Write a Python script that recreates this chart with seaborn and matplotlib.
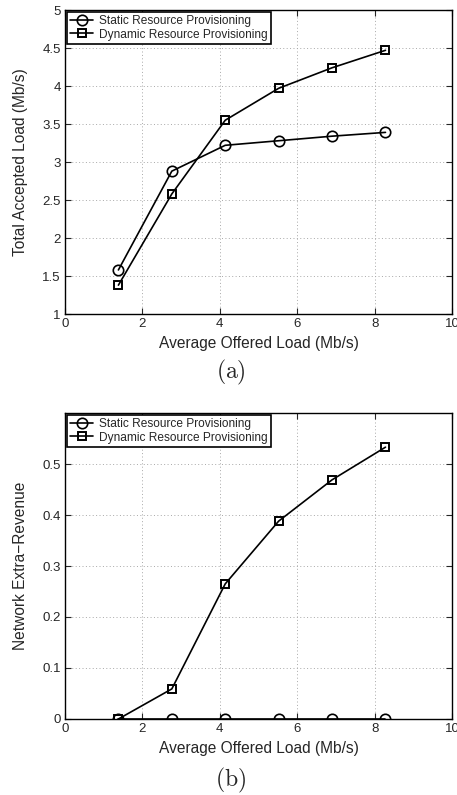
import numpy as np
import pandas as pd
import seaborn as sns
import matplotlib
matplotlib.use('Agg')
import matplotlib.pyplot as plt

# Donnees
offered_load = [1.38, 2.76, 4.14, 5.52, 6.90, 8.28]
static_accepted = [1.58, 2.88, 3.22, 3.28, 3.34, 3.39]
dynamic_accepted = [1.38, 2.58, 3.55, 3.97, 4.24, 4.47]
static_revenue = [0.0, 0.0, 0.0, 0.0, 0.0, 0.0]
dynamic_revenue = [0.0, 0.059, 0.265, 0.388, 0.469, 0.533]

labels = ["Static Resource Provisioning", "Dynamic Resource Provisioning"]

sns.set_style("ticks")
plt.rcParams['font.family'] = ['Liberation Sans', 'DejaVu Sans']
plt.rcParams['mathtext.fontset'] = 'cm'

fig = plt.figure(figsize=(4.57, 7.95), dpi=100)
ax1 = fig.add_axes([0.1422, 0.605, 0.847, 0.3824])
ax2 = fig.add_axes([0.1422, 0.0956, 0.847, 0.3849])


def draw(ax, static_vals, dynamic_vals):
    df = pd.DataFrame({"x": offered_load, "s": static_vals, "d": dynamic_vals})
    sns.lineplot(data=df, x="x", y="s", ax=ax, color="black", lw=1.2,
                 marker="o", markersize=7.5, markerfacecolor="none",
                 markeredgecolor="black", markeredgewidth=1.2, label=labels[0])
    sns.lineplot(data=df, x="x", y="d", ax=ax, color="black", lw=1.2,
                 marker="s", markersize=5.5, markerfacecolor="none",
                 markeredgecolor="black", markeredgewidth=1.4, label=labels[1])
    ax.set_xlim(0, 10)
    ax.set_xticks([0, 2, 4, 6, 8, 10])
    ax.grid(True, color="#a8a8a8", linestyle=(0, (1, 2.5)), lw=0.7)
    ax.tick_params(direction="in", top=True, right=True, labelsize=9.5,
                   length=4, width=0.8, pad=3)
    for sp in ax.spines.values():
        sp.set_linewidth(1.0)
        sp.set_color("black")
    ax.set_xlabel("Average Offered Load (Mb/s)", fontsize=11.2, labelpad=4)
    leg = ax.legend(loc="upper left", fontsize=8.6, handlelength=1.9,
                    borderaxespad=0.15, fancybox=False, framealpha=1,
                    edgecolor="black", borderpad=0.3, labelspacing=0.1,
                    handletextpad=0.5)
    leg.get_frame().set_linewidth(1.2)


draw(ax1, static_accepted, dynamic_accepted)
ax1.set_ylim(1, 5)
ax1.set_yticks([1, 1.5, 2, 2.5, 3, 3.5, 4, 4.5, 5])
ax1.set_yticklabels(["1", "1.5", "2", "2.5", "3", "3.5", "4", "4.5", "5"])
ax1.set_ylabel("Total Accepted Load (Mb/s)", fontsize=11.2, labelpad=10)

draw(ax2, static_revenue, dynamic_revenue)
ax2.set_ylim(0, 0.6)
ax2.set_yticks([0, 0.1, 0.2, 0.3, 0.4, 0.5])
ax2.set_yticklabels(["0", "0.1", "0.2", "0.3", "0.4", "0.5"])
ax2.set_ylabel("Network Extra\u2212Revenue", fontsize=11.2, labelpad=10)

fig.text(0.505, 1 - 372 / 795, r"$\mathrm{(a)}$", ha="center", va="center", fontsize=17)
fig.text(0.505, 1 - 780 / 795, r"$\mathrm{(b)}$", ha="center", va="center", fontsize=17)

fig.savefig("out.png", dpi=100)
